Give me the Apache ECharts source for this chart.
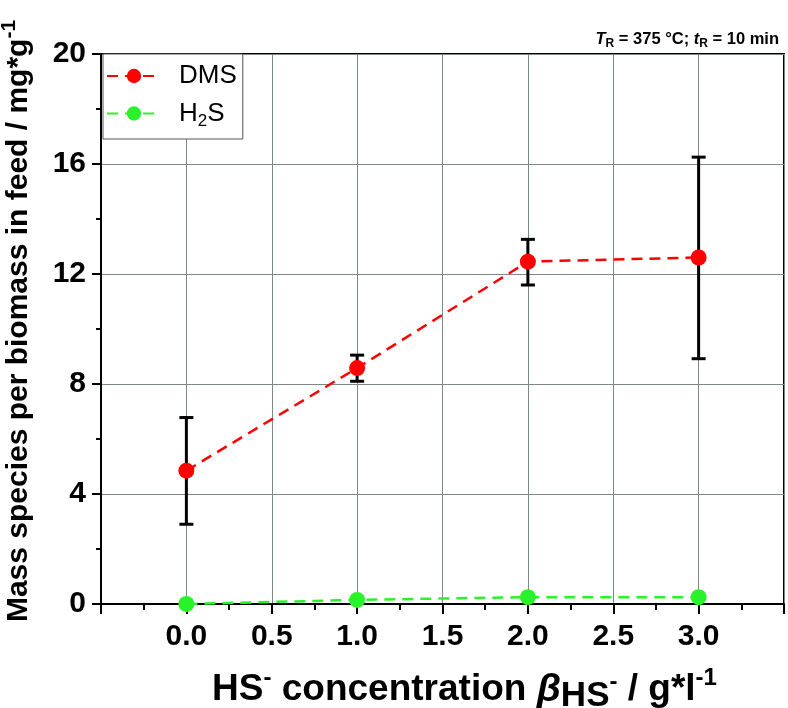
<!DOCTYPE html>
<html>
<head>
<meta charset="utf-8">
<script src="https://cdn.jsdelivr.net/npm/echarts@6/dist/echarts.min.js"></script>
<style>html,body{margin:0;padding:0;background:#fff}#c{width:788px;height:708px}</style>
</head>
<body>
<div id="c"></div>
<script>
// Data
var concentrations = [0.0, 1.0, 2.0, 3.0];
var dmsValues = [4.85, 8.58, 12.45, 12.6];
var dmsErrLow = [2.9, 8.1, 11.6, 8.92];
var dmsErrHigh = [6.78, 9.05, 13.26, 16.25];
var h2sValues = [0.0, 0.15, 0.25, 0.25];
var xTickLabels = ['0.0', '0.5', '1.0', '1.5', '2.0', '2.5', '3.0'];
var yTickLabels = ['0', '4', '8', '12', '16', '20'];

var FONT = '"Liberation Sans", Arial, sans-serif';
var GREEN = '#2af22a';
var RED = '#ff0000';

function pairs(xs, ys) { return xs.map(function (x, i) { return [x, ys[i]]; }); }
var errData = concentrations.map(function (x, i) { return [x, dmsErrLow[i], dmsErrHigh[i]]; });

var chart = echarts.init(document.getElementById('c'));
chart.setOption({
  animation: false,
  backgroundColor: '#fff',
  title: {
    text: '{it|T}{sub|R}{n| = 375 °C; }{it|t}{sub|R}{n| = 10 min}',
    right: 9, top: 28,
    padding: 0,
    textStyle: {
      fontFamily: FONT,
      rich: {
        n: { fontSize: 16.5, fontWeight: 'bold', fontFamily: FONT, color: '#000' },
        it: { fontSize: 16.5, fontWeight: 'bold', fontStyle: 'italic', fontFamily: FONT, color: '#000' },
        sub: { fontSize: 12, fontWeight: 'bold', fontFamily: FONT, color: '#000', padding: [10, 0, 0, 0] }
      }
    }
  },
  legend: {
    orient: 'vertical',
    left: 103, top: 54,
    padding: [9, 6, 9, 3],
    itemGap: 8,
    itemWidth: 54, itemHeight: 18,
    borderColor: '#555', borderWidth: 1,
    backgroundColor: '#fff',
    data: ['DMS', 'H2S'],
    formatter: function (name) {
      return name === 'H2S' ? '{a|H}{s|2}{b|S}' : '{a|' + name + '}';
    },
    textStyle: {
      fontFamily: FONT,
      rich: {
        a: { fontSize: 26, lineHeight: 26, fontFamily: FONT, color: '#000', padding: [0, 0, 0, 13] },
        b: { fontSize: 26, lineHeight: 26, fontFamily: FONT, color: '#000' },
        s: { fontSize: 17, lineHeight: 8, fontFamily: FONT, color: '#000', padding: [16, 0, 0, 0] }
      }
    }
  },
  grid: {
    left: 101, right: 4, top: 54, bottom: 104,
    show: true, borderColor: '#000', borderWidth: 2,
    outerBoundsMode: 'none',
    containLabel: false
  },
  xAxis: {
    type: 'value', min: -0.5, max: 3.5, interval: 0.5,
    name: '{b|HS}{sup|-}{b| concentration }{beta|β}{sub|HS}{subsup|-}{b| / g*l}{sup|-1}',
    nameLocation: 'middle', nameGap: 66,
    nameTextStyle: {
      fontFamily: FONT,
      padding: [0, 0, 0, 44],
      rich: {
        b: { fontSize: 37, lineHeight: 40, fontWeight: 'bold', fontFamily: FONT, color: '#000' },
        beta: { fontSize: 39, lineHeight: 40, fontWeight: 'bold', fontStyle: 'italic', fontFamily: FONT, color: '#000' },
        sup: { fontSize: 24, lineHeight: 16, fontWeight: 'bold', fontFamily: FONT, color: '#000', padding: [0, 0, 24, 0] },
        sub: { fontSize: 35, lineHeight: 28, fontWeight: 'bold', fontFamily: FONT, color: '#000', padding: [12, 0, 0, 0] },
        subsup: { fontSize: 24, lineHeight: 24, fontWeight: 'bold', fontFamily: FONT, color: '#000', padding: [0, 0, 16, 0] }
      }
    },
    axisLine: { show: true, onZero: false, lineStyle: { color: '#000', width: 2 } },
    axisTick: { show: true, inside: false, length: 10, lineStyle: { color: '#000', width: 2 } },
    minorTick: { show: true, splitNumber: 2, length: 6, lineStyle: { color: '#000', width: 2 } },
    splitLine: { show: true, lineStyle: { color: '#7f8686', width: 1 } },
    axisLabel: {
      margin: 18,
      fontSize: 30, fontWeight: 'bold', fontFamily: FONT, color: '#000',
      formatter: function (v) {
        var idx = Math.round(v / 0.5);
        return (idx >= 0 && idx < xTickLabels.length && Math.abs(v - idx * 0.5) < 1e-6) ? xTickLabels[idx] : '';
      }
    }
  },
  yAxis: {
    type: 'value', min: 0, max: 20, interval: 4,
    name: '{b|Mass species per biomass in feed / mg*g}{sup|-1}',
    nameLocation: 'middle', nameGap: 65, nameRotate: 90,
    nameTextStyle: {
      fontFamily: FONT,
      padding: [0, 0, 0, 16],
      rich: {
        b: { fontSize: 30, lineHeight: 34, fontWeight: 'bold', fontFamily: FONT, color: '#000' },
        sup: { fontSize: 21, lineHeight: 14, fontWeight: 'bold', fontFamily: FONT, color: '#000', padding: [0, 0, 20, 0] }
      }
    },
    axisLine: { show: true, onZero: false, lineStyle: { color: '#000', width: 2 } },
    axisTick: { show: true, inside: false, length: 9, lineStyle: { color: '#000', width: 2 } },
    minorTick: { show: true, splitNumber: 2, length: 5, lineStyle: { color: '#000', width: 2 } },
    splitLine: { show: true, lineStyle: { color: '#7f8686', width: 1 } },
    axisLabel: {
      margin: 15,
      fontSize: 30, fontWeight: 'bold', fontFamily: FONT, color: '#000',
      formatter: function (v) {
        var idx = Math.round(v / 4);
        return yTickLabels[idx] !== undefined ? yTickLabels[idx] : '';
      }
    }
  },
  series: [
    {
      name: 'DMS-err', type: 'custom', z: 3,
      data: errData,
      renderItem: function (params, api) {
        var x = api.value(0);
        var lo = api.coord([x, api.value(1)]);
        var hi = api.coord([x, api.value(2)]);
        var cw = 7;
        var st = { stroke: '#000', lineWidth: 3 };
        return {
          type: 'group',
          children: [
            { type: 'line', shape: { x1: lo[0], y1: lo[1], x2: hi[0], y2: hi[1] }, style: st },
            { type: 'line', shape: { x1: lo[0] - cw, y1: lo[1], x2: lo[0] + cw, y2: lo[1] }, style: st },
            { type: 'line', shape: { x1: hi[0] - cw, y1: hi[1], x2: hi[0] + cw, y2: hi[1] }, style: st }
          ]
        };
      }
    },
    {
      name: 'DMS', type: 'line', z: 5,
      data: pairs(concentrations, dmsValues),
      symbol: 'circle', symbolSize: 16,
      itemStyle: { color: RED },
      lineStyle: { color: RED, width: 2.5, type: [11, 7] }
    },
    {
      name: 'H2S', type: 'line', z: 5,
      data: pairs(concentrations, h2sValues),
      symbol: 'circle', symbolSize: 16,
      itemStyle: { color: GREEN },
      lineStyle: { color: GREEN, width: 2.5, type: [11, 7] }
    }
  ]
});
</script>
</body>
</html>
